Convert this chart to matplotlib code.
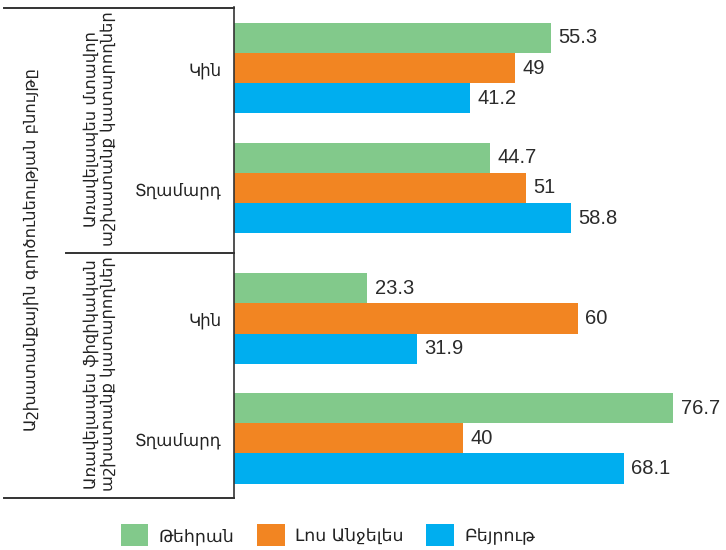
import matplotlib.pyplot as plt
import numpy as np
from matplotlib.lines import Line2D

# data
cities = ['Թեհրան', 'Լոս Անջելես', 'Բեյրութ']
categories = ['Կին', 'Տղամարդ', 'Կին', 'Տղամարդ']
groups = ['Առավելապես մտավոր\nաշխատանք կատարողներ',
          'Առավելապես ֆիզիկական\nաշխատանք կատարողներ']
outer_label = 'Աշխատանքային գործունեության բնույթը'
tehran = [55.3, 44.7, 23.3, 76.7]
los_angeles = [49, 51, 60, 40]
beirut = [41.2, 58.8, 31.9, 68.1]

colors = ['#82C98B', '#F28522', '#00AEEF']
series = [tehran, los_angeles, beirut]

plt.rcParams['font.family'] = ['Liberation Sans', 'DejaVu Sans']

fig = plt.figure(figsize=(7.26, 5.5), dpi=100)
ax = fig.add_axes([234 / 726, 52.3 / 550, 492 / 726, 490.7 / 550])

# category centres, with an extra gap between the two sections
gap = 0.09
ypos = np.array([0, 1, 2 + gap, 3 + gap])
h = 0.252
for i, (vals, c) in enumerate(zip(series, colors)):
    y = ypos + (i - 1) * h
    bars = ax.barh(y, vals, height=h, color=c, label=cities[i])
    for b, v in zip(bars, vals):
        ax.text(v + 1.3, b.get_y() + h / 2, f'{v:g}', va='center', ha='left',
                fontsize=14.5, color='#2b2b2b', family='Liberation Sans')

ax.set_xlim(0, 85.9)
ax.set_ylim(3 + gap + 0.5 - 0.005, -0.5 - 0.01)
ax.set_xticks([])
ax.set_yticks(ypos)
ax.set_yticklabels(categories, fontsize=12, color='#222222', family='DejaVu Sans')
ax.tick_params(axis='y', length=0, pad=9)
for s in ['top', 'right', 'bottom']:
    ax.spines[s].set_visible(False)
ax.spines['left'].set_color('#333333')
ax.spines['left'].set_linewidth(1.2)

# frame lines on the left side
def fy(p):
    return 1 - p / 550

def fx(p):
    return p / 726

for x0, yp in [(4, 7.5), (4, 497.5), (66, 252.7)]:
    fig.add_artist(Line2D([fx(x0), fx(234)], [fy(yp), fy(yp)], color='#333333', lw=1.4))

fig.text(fx(100), fy(129), groups[0], rotation=90, ha='center', va='center',
         fontsize=11.8, family='DejaVu Sans', color='#222222', linespacing=1.1)
fig.text(fx(100), fy(374), groups[1], rotation=90, ha='center', va='center',
         fontsize=11.8, family='DejaVu Sans', color='#222222', linespacing=1.1)
fig.text(fx(31), fy(250), outer_label, rotation=90, ha='center', va='center',
         fontsize=11.8, family='DejaVu Sans', color='#222222')

fig.legend(loc='center', bbox_to_anchor=(fx(328), fy(535)), ncol=3, frameon=False,
           prop={'family': 'DejaVu Sans', 'size': 12.5}, handlelength=1.6, handleheight=1.6,
           handletextpad=0.6, columnspacing=1.3, labelcolor='#222222')

fig.savefig('out.png', dpi=100)
